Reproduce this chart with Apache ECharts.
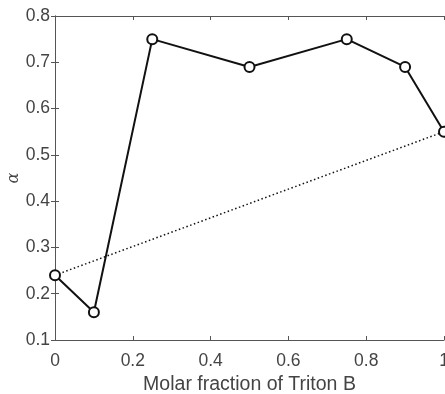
<!DOCTYPE html>
<html>
<head>
<meta charset="utf-8">
<script src="https://cdn.jsdelivr.net/npm/echarts@6/dist/echarts.min.js"></script>
<style>
  html, body { margin: 0; padding: 0; background: #fff; }
  #chart { width: 445px; height: 394px; }
</style>
</head>
<body>
<div id="chart"></div>
<script>
// measured values
const fractions = [0, 0.1, 0.25, 0.5, 0.75, 0.9, 1];
const alphaValues = [0.24, 0.16, 0.75, 0.69, 0.75, 0.69, 0.55];
// ideal mixing line between the pure components
const idealX = [0, 1];
const idealY = [0.24, 0.55];
const xTicks = [0, 0.2, 0.4, 0.6, 0.8, 1];
const yTicks = [0.1, 0.2, 0.3, 0.4, 0.5, 0.6, 0.7, 0.8];

const axisColor = "#555";
const labelColor = "#444";
const sans = "Liberation Sans, Arial, sans-serif";

const chart = echarts.init(document.getElementById("chart"));

const baseAxis = {
  axisLine: { show: true, lineStyle: { color: axisColor, width: 1 } },
  axisTick: { show: true, inside: true, length: 4, lineStyle: { color: axisColor } },
  splitLine: { show: false },
};

chart.setOption({
  animation: false,
  grid: { left: 55, right: 1, top: 16, bottom: 54, containLabel: false, outerBoundsMode: "none" },
  xAxis: [
    {
      ...baseAxis,
      type: "value",
      min: 0,
      max: 1,
      interval: 0.2,
      name: "Molar fraction of Triton B",
      nameLocation: "middle",
      nameGap: 33,
      nameTextStyle: { color: labelColor, fontSize: 19.5, fontFamily: sans },
      axisLabel: {
        color: labelColor,
        fontSize: 17.5,
        margin: 12,
        fontFamily: sans,
        formatter: (v) => (xTicks.includes(+v.toFixed(1)) ? String(+v.toFixed(1)) : ""),
      },
    },
    {
      ...baseAxis,
      type: "value",
      position: "top",
      min: 0,
      max: 1,
      interval: 0.2,
      axisLabel: { show: false },
    },
  ],
  yAxis: [
    {
      ...baseAxis,
      type: "value",
      min: 0.1,
      max: 0.8,
      interval: 0.1,
      name: "α",
      nameLocation: "middle",
      nameGap: 33,
      nameRotate: 90,
      nameMoveOverlap: false,
      nameTextStyle: { color: labelColor, fontSize: 16, fontStyle: "italic", fontFamily: "DejaVu Serif, serif" },
      axisLabel: {
        color: labelColor,
        fontSize: 17.5,
        margin: 5,
        fontFamily: sans,
        formatter: (v) => {
          const t = +v.toFixed(1);
          return yTicks.includes(t) ? t.toFixed(1) : "";
        },
      },
    },
    {
      ...baseAxis,
      type: "value",
      position: "right",
      min: 0.1,
      max: 0.8,
      interval: 0.1,
      axisLabel: { show: false },
    },
  ],
  series: [
    {
      type: "line",
      data: idealX.map((x, i) => [x, idealY[i]]),
      showSymbol: false,
      lineStyle: { color: "#111", width: 1.5, type: [1.5, 2.5] },
      z: 2,
    },
    {
      type: "line",
      data: fractions.map((x, i) => [x, alphaValues[i]]),
      symbol: "emptyCircle",
      symbolSize: 10,
      clip: false,
      lineStyle: { color: "#111", width: 2 },
      itemStyle: { color: "#111", borderWidth: 2 },
      z: 3,
    },
  ],
});
</script>
</body>
</html>
